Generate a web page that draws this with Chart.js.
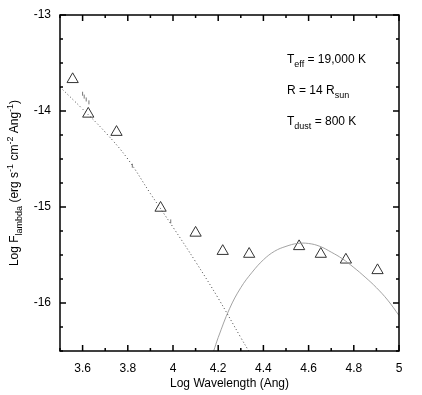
<!DOCTYPE html>
<html lang="en">
<head>
<meta charset="UTF-8">
<title>SED fit</title>
<script src="https://cdn.jsdelivr.net/npm/chart.js"></script>
<style>
  html, body { margin: 0; padding: 0; background: #fff; }
  #wrap { width: 422px; height: 395px; }
</style>
</head>
<body>
<div id="wrap"><canvas id="sed" width="422" height="395"></canvas></div>
<script>
// observed photometry (log wavelength, log flux)
const obsX = [3.556, 3.625, 3.75, 3.945, 4.10, 4.22, 4.337, 4.558, 4.654, 4.765, 4.905];
const obsY = [-13.67, -14.03, -14.22, -15.01, -15.27, -15.46, -15.49, -15.41, -15.49, -15.55, -15.66];

// small spectrum marks
const specX = [3.600, 3.607, 3.616, 3.628, 3.820, 3.990];
const specY = [-13.82, -13.85, -13.88, -13.91, -14.57, -15.15];

// stellar model curve
const starX = [3.5, 3.6, 3.7, 3.8, 3.9, 4.0, 4.1, 4.2, 4.3, 4.335];
const starY = [-13.75, -13.98, -14.22, -14.50, -14.86, -15.21, -15.57, -15.95, -16.36, -16.5];

// dust model curve
const dustX = [4.18, 4.2, 4.25, 4.3, 4.35, 4.4, 4.45, 4.5, 4.55, 4.6, 4.65, 4.7, 4.75, 4.8, 4.85, 4.9, 4.95, 5.0];
const dustY = [-16.5, -16.36, -16.06, -15.84, -15.68, -15.55, -15.46, -15.41, -15.38, -15.38, -15.41, -15.47, -15.54, -15.63, -15.73, -15.84, -15.97, -16.13];

const xTicks = [3.6, 3.8, 4, 4.2, 4.4, 4.6, 4.8, 5];
const yTicks = [-13, -14, -15, -16];

const FONT = "'Liberation Sans', Arial, Helvetica, sans-serif";

function pts(xs, ys) { return xs.map((x, i) => ({ x: x, y: ys[i] })); }

// draw text with sub/superscripts, centred on x
function richText(ctx, parts, x, y, size) {
  const small = Math.round(size * 0.72);
  let total = 0;
  parts.forEach(p => {
    ctx.font = (p.s ? small : size) + 'px ' + FONT;
    p.w = ctx.measureText(p.t).width;
    total += p.w;
  });
  let cx = x - total / 2;
  parts.forEach(p => {
    ctx.font = (p.s ? small : size) + 'px ' + FONT;
    let dy = 0;
    if (p.s === 'sub') dy = size * 0.3;
    if (p.s === 'sup') dy = -size * 0.45;
    ctx.fillText(p.t, cx, y + dy);
    cx += p.w;
  });
}

function richLeft(ctx, parts, x, y, size) {
  let total = 0;
  const small = Math.round(size * 0.72);
  parts.forEach(p => {
    ctx.font = (p.s ? small : size) + 'px ' + FONT;
    total += ctx.measureText(p.t).width;
  });
  richText(ctx, parts, x + total / 2, y, size);
}

const framePlugin = {
  id: 'frame',
  afterDraw(chart) {
    const ctx = chart.ctx;
    const a = chart.chartArea;
    const xs = chart.scales.x, ys = chart.scales.y;
    ctx.save();
    ctx.strokeStyle = '#000';
    ctx.lineWidth = 1.5;
    ctx.strokeRect(a.left, a.top, a.right - a.left, a.bottom - a.top);

    // inward ticks on all four sides
    ctx.lineWidth = 1.5;
    ctx.beginPath();
    for (let i = 0; i <= 15; i++) {
      const v = 3.5 + i * 0.1;
      const px = xs.getPixelForValue(v);
      const len = (i % 2 === 1) ? 6 : 3;
      ctx.moveTo(px, a.bottom); ctx.lineTo(px, a.bottom - len);
      ctx.moveTo(px, a.top); ctx.lineTo(px, a.top + len);
    }
    for (let i = 0; i <= 14; i++) {
      const v = -16.5 + i * 0.25;
      const py = ys.getPixelForValue(v);
      const len = (i % 4 === 2) ? 6 : 3;
      ctx.moveTo(a.left, py); ctx.lineTo(a.left + len, py);
      ctx.moveTo(a.right, py); ctx.lineTo(a.right - len, py);
    }
    ctx.stroke();

    // labels
    ctx.fillStyle = '#000';
    ctx.textBaseline = 'middle';
    ctx.font = '12px ' + FONT;
    ctx.textAlign = 'center';
    xTicks.forEach(v => ctx.fillText(String(v), xs.getPixelForValue(v), 369));
    ctx.textAlign = 'right';
    yTicks.forEach(v => ctx.fillText(String(v), 51, ys.getPixelForValue(v)));

    ctx.textAlign = 'left';
    ctx.textBaseline = 'alphabetic';
    richText(ctx, [{ t: 'Log Wavelength (Ang)' }], (a.left + a.right) / 2, 387, 12);

    ctx.save();
    ctx.translate(18, (a.top + a.bottom) / 2);
    ctx.rotate(-Math.PI / 2);
    richText(ctx, [
      { t: 'Log F' }, { t: 'lambda', s: 'sub' }, { t: ' (erg s' }, { t: '-1', s: 'sup' },
      { t: ' cm' }, { t: '-2', s: 'sup' }, { t: ' Ang' }, { t: '-1', s: 'sup' }, { t: ')' }
    ], 0, 0, 12);
    ctx.restore();

    richLeft(ctx, [{ t: 'T' }, { t: 'eff', s: 'sub' }, { t: ' = 19,000 K' }], 287, 63, 12);
    richLeft(ctx, [{ t: 'R = 14 R' }, { t: 'sun', s: 'sub' }], 287, 94, 12);
    richLeft(ctx, [{ t: 'T' }, { t: 'dust', s: 'sub' }, { t: ' = 800 K' }], 287, 125, 12);
    ctx.restore();
  }
};

new Chart(document.getElementById('sed'), {
  type: 'scatter',
  data: {
    datasets: [
      {
        label: 'star',
        type: 'line',
        data: pts(starX, starY),
        borderColor: '#444',
        borderWidth: 1,
        borderDash: [1, 2.5],
        pointRadius: 0,
        tension: 0.4,
        fill: false
      },
      {
        label: 'dust',
        type: 'line',
        data: pts(dustX, dustY),
        borderColor: '#999',
        borderWidth: 0.9,
        pointRadius: 0,
        tension: 0.4,
        fill: false
      },
      {
        label: 'spectrum',
        data: pts(specX, specY),
        pointStyle: 'line',
        rotation: 90,
        pointRadius: 2,
        borderColor: '#777',
        borderWidth: 1
      },
      {
        label: 'photometry',
        data: pts(obsX, obsY),
        pointStyle: 'triangle',
        pointRadius: 6.5,
        backgroundColor: 'rgba(255,255,255,0)',
        borderColor: '#333',
        borderWidth: 1
      }
    ]
  },
  options: {
    responsive: false,
    animation: false,
    events: [],
    layout: { padding: { left: 0, right: 23, top: 15, bottom: 0 } },
    plugins: { legend: { display: false }, tooltip: { enabled: false } },
    scales: {
      x: {
        type: 'linear', min: 3.5, max: 5,
        grid: { display: false }, border: { display: false },
        ticks: { display: false },
        afterFit(s) { s.height = 44; }
      },
      y: {
        type: 'linear', min: -16.5, max: -13,
        grid: { display: false }, border: { display: false },
        ticks: { display: false },
        afterFit(s) { s.width = 60; }
      }
    }
  },
  plugins: [framePlugin]
});
</script>
</body>
</html>
